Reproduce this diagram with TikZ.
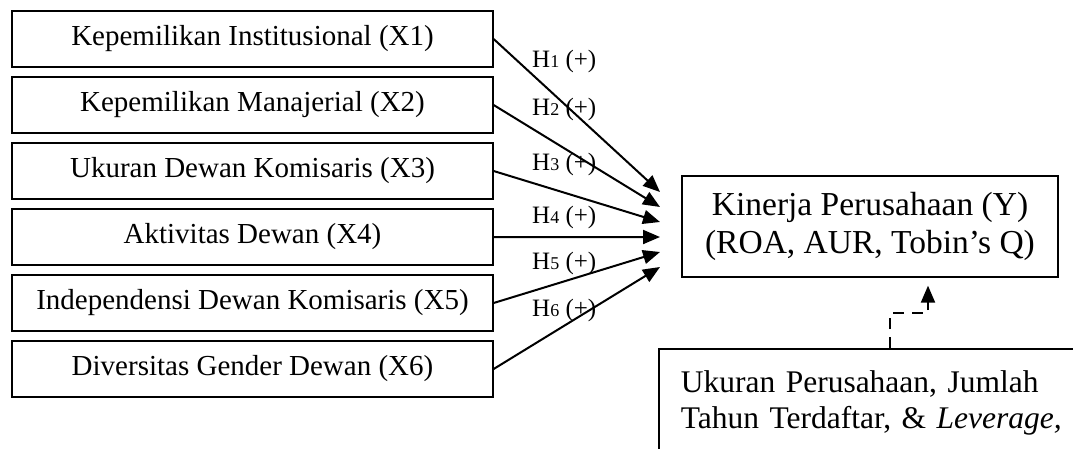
\documentclass[tikz,border=0pt]{standalone}
\usepackage{fontspec}
\setmainfont{Liberation Serif}
\usetikzlibrary{arrows.meta, positioning}

\begin{document}
\begin{tikzpicture}[
  x=1pt, y=-1pt,
  >={Triangle[length=17pt, width=14pt]},
  node distance=8.7pt,
  var/.style={draw, line width=1.3pt, minimum width=481pt, minimum height=56pt, inner sep=0pt, font=\fontsize{29}{34}\selectfont},
  dep/.style={draw, line width=1.3pt, minimum width=376pt, minimum height=101pt, align=center, inner sep=0pt, font=\fontsize{33.5}{38}\selectfont},
  ctl/.style={draw, line width=1.6pt, anchor=north west, text width=400pt, align=left, inner xsep=22pt, minimum height=108pt, font=\fontsize{31.5}{36}\selectfont},
  hyp/.style={anchor=west, inner sep=0pt, font=\fontsize{25}{28}\selectfont},
  link/.style={->, line width=2pt},
]
  \useasboundingbox (0,0) rectangle (1073,448);

  \node[var] (X1) at (252.5,39) {Kepemilikan Institusional (X1)};
  \node[var, below=of X1] (X2) {Kepemilikan Manajerial (X2)};
  \node[var, below=of X2] (X3) {Ukuran Dewan Komisaris (X3)};
  \node[var, below=of X3] (X4) {Aktivitas Dewan (X4)};
  \node[var, below=of X4] (X5) {Independensi Dewan Komisaris (X5)};
  \node[var, below=of X5] (X6) {Diversitas Gender Dewan (X6)};

  \node[dep] (Y) at (870,226.5) {Kinerja Perusahaan (Y)\\(ROA, AUR, Tobin's Q)};
  \node[ctl] (ctrl) at (658,348) {Ukuran Perusahaan, Jumlah\\Tahun Terdaftar, \& \textit{Leverage,}};

  % arrow ends, just left of Y
  \coordinate (t1) at (660,192);
  \coordinate (t2) at (660,207);
  \coordinate (t3) at (660,222);
  \coordinate (t4) at (660,237);
  \coordinate (t5) at (660,252);
  \coordinate (t6) at (660,267);

  \draw[link] (X1.east) -- (t1);
  \draw[link] (X2.east) -- (t2);
  \draw[link] (X3.east) -- (t3);
  \draw[link] (X4.east) -- (t4);
  \draw[link] (X5.east) -- (t5);
  \draw[link] (X6.east) -- (t6);

  \node[hyp] (h1) at (532,61) {H{\fontsize{18}{20}\selectfont 1} (+)};
  \node[hyp] (h2) at (532,109) {H{\fontsize{18}{20}\selectfont 2} (+)};
  \node[hyp] (h3) at (532,164) {H{\fontsize{18}{20}\selectfont 3} (+)};
  \node[hyp] (h4) at (532,217) {H{\fontsize{18}{20}\selectfont 4} (+)};
  \node[hyp] (h5) at (532,263) {H{\fontsize{18}{20}\selectfont 5} (+)};
  \node[hyp] (h6) at (532,310) {H{\fontsize{18}{20}\selectfont 6} (+)};

  \coordinate (bend) at (928,313);
  \draw[link, dash pattern=on 11pt off 8pt] ([xshift=232pt]ctrl.north west) |- (bend) -- ([xshift=58pt, yshift=-8pt]Y.south);
\end{tikzpicture}
\end{document}
